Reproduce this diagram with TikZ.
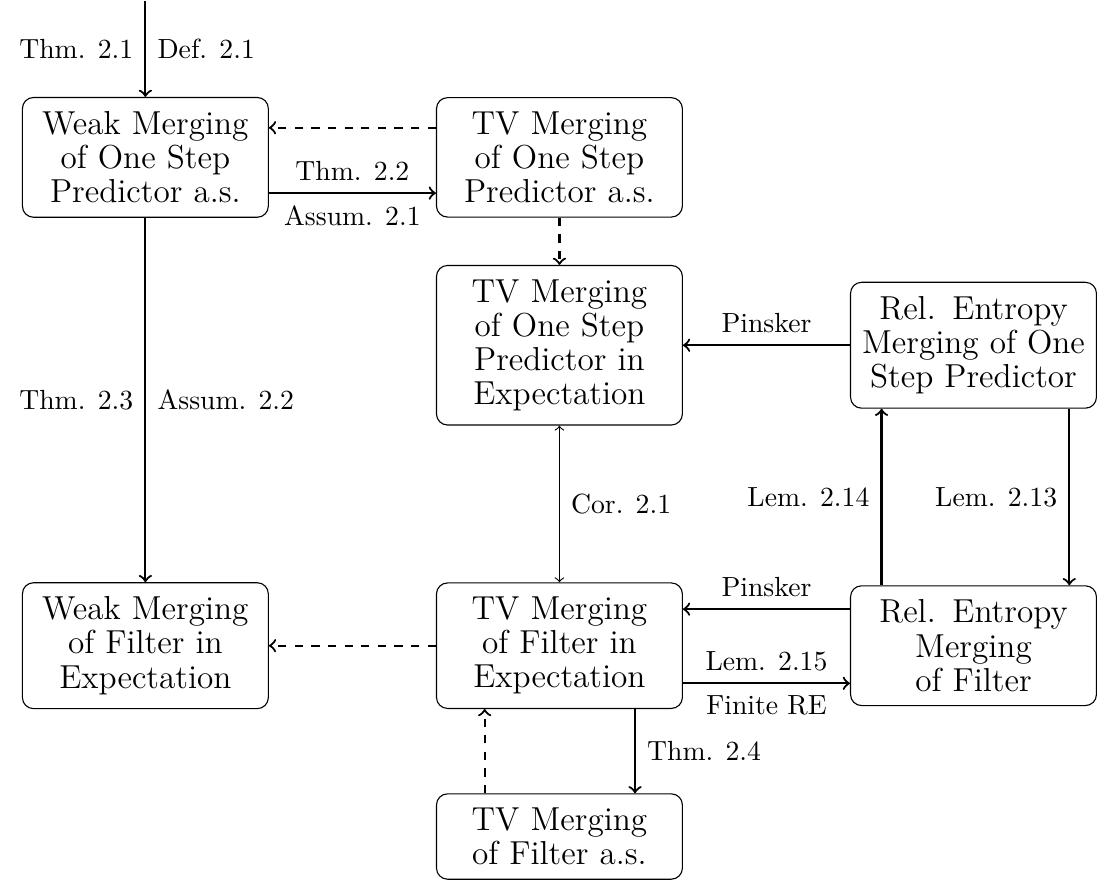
\documentclass[tikz,border=0pt]{standalone}
\usetikzlibrary{positioning,arrows}

\begin{document}
\begin{tikzpicture}[
        >=to,
        tag/.style={inner sep=4pt, font=\fontsize{10}{12}\selectfont},
        box/.style={draw, align=center, text width=83pt, inner xsep=2.9pt, inner ysep=5.1pt, rounded corners, font=\fontsize{12}{12.3}\selectfont},
        link/.style={->, thick},
        hint/.style={->, thick, dashed}
      ]

      \node (WOS) at (0, 0) [box] {Weak Merging\\ of One Step\\ Predictor a.s.};
      \node (TVOS) [node distance=2.12cm, right=of WOS, box] {TV Merging\\ of One Step\\ Predictor a.s.};
      \node (TVOSE) [node distance=0.6cm, below=of TVOS, box] {TV Merging\\ of One Step\\ Predictor in\\ Expectation};
      \node (REOS) [node distance=2.12cm, right=of TVOSE, box] {Rel. Entropy\\ Merging of One\\ Step Predictor};
      \node (TVFE) [node distance=1.99cm, below=of TVOSE, box] {TV Merging\\ of Filter in\\ Expectation};
      \node (WFE) [node distance=2.12cm, left=of TVFE, box] {Weak Merging\\ of Filter in\\ Expectation};
      \node (REF) [node distance=2.12cm, right=of TVFE, box] {Rel. Entropy\\ Merging\\ of Filter};
      \node (TVF) [node distance=1.07cm, below=of TVFE, box] {TV Merging\\ of Filter a.s.};
      \coordinate [node distance=34.6pt, above=of WOS] (start);
      \coordinate [node distance=7.9pt, left=of WOS] (margin);
      \path (margin);

      % one step predictor
      \path[link]
        (start) edge node[left, tag] {Thm. 2.1} node[right, tag] {Def. 2.1} (WOS)
        ([yshift=-12.9pt]WOS.east) edge node[above, tag] {Thm. 2.2} node[below, tag] {Assum. 2.1} ([yshift=-12.9pt]TVOS.west)
        (REOS) edge node[above, tag] {Pinsker} (TVOSE)
        (WOS) edge node[left, tag] {Thm. 2.3} node[right, tag] {Assum. 2.2} (WFE)
        ([xshift=11.4pt]REF.north west) edge node[left, tag] {Lem. 2.14} ([xshift=11.4pt]REOS.south west)
        ([xshift=-10pt]REOS.south east) edge node[left, tag] {Lem. 2.13} ([xshift=-10pt]REF.north east);
      \path[hint]
        ([yshift=10.7pt]TVOS.west) edge ([yshift=10.7pt]WOS.east)
        (TVOS) edge (TVOSE);
      \path[<->]
        (TVOSE) edge node[right, tag] {Cor. 2.1} (TVFE);

      % filter
      \path[link]
        ([yshift=13.2pt]REF.west) edge node[above, tag] {Pinsker} ([yshift=13.2pt]TVFE.east)
        ([yshift=-13.6pt]TVFE.east) edge node[above, tag] {Lem. 2.15} node[below, tag] {Finite RE} ([yshift=-13.6pt]REF.west)
        ([xshift=27.3pt]TVFE.south) edge node[right, tag] {Thm. 2.4} ([xshift=27.3pt]TVF.north);
      \path[hint]
        (TVFE) edge (WFE)
        ([xshift=-27pt]TVF.north) edge ([xshift=-27pt]TVFE.south);
    \end{tikzpicture}
\end{document}
